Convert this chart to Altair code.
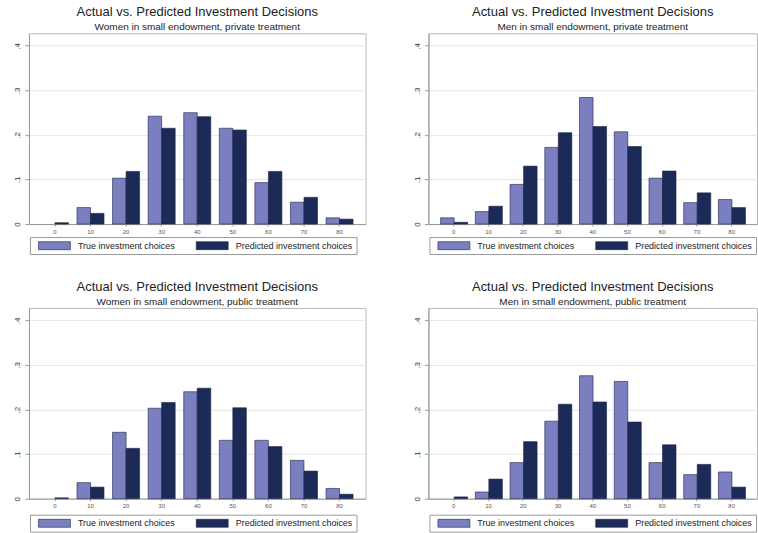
import altair as alt
import pandas as pd

# Investment amounts (categories on the x axis)
amounts = ["0", "10", "20", "30", "40", "50", "60", "70", "80"]
series = ["True investment choices", "Predicted investment choices"]
series_colors = ["#7b7fc0", "#1b2a57"]

# Shares of subjects choosing each amount
women_private_true = [0.000, 0.037, 0.103, 0.242, 0.250, 0.215, 0.093, 0.049, 0.014]
women_private_pred = [0.003, 0.024, 0.118, 0.215, 0.241, 0.211, 0.118, 0.060, 0.011]
men_private_true = [0.014, 0.028, 0.089, 0.172, 0.284, 0.207, 0.103, 0.048, 0.055]
men_private_pred = [0.004, 0.040, 0.130, 0.205, 0.219, 0.174, 0.119, 0.070, 0.037]
women_public_true = [0.000, 0.036, 0.149, 0.203, 0.240, 0.131, 0.131, 0.086, 0.023]
women_public_pred = [0.002, 0.026, 0.113, 0.216, 0.248, 0.204, 0.117, 0.062, 0.010]
men_public_true = [0.000, 0.015, 0.081, 0.174, 0.276, 0.263, 0.081, 0.054, 0.060]
men_public_pred = [0.004, 0.044, 0.128, 0.212, 0.217, 0.172, 0.121, 0.077, 0.026]

main_title = "Actual vs. Predicted Investment Decisions"
FONT = "Liberation Sans"
H = 191


def panel(subtitle, true_vals, pred_vals, width, legend_gap):
    df = pd.DataFrame({
        "amount": amounts * 2,
        "series": [series[0]] * len(amounts) + [series[1]] * len(amounts),
        "share": list(true_vals) + list(pred_vals),
    })
    return alt.Chart(df).mark_bar(stroke="#1c2146").encode(
        x=alt.X("amount:O", sort=amounts, title=None,
                scale=alt.Scale(paddingInner=0.24, paddingOuter=0.35),
                axis=alt.Axis(labelAngle=0, labelFontSize=6, labelColor="#555",
                              tickSize=2, tickColor="#999", labelPadding=2,
                              domainColor="#999", grid=False)),
        xOffset=alt.XOffset("series:N", sort=series),
        y=alt.Y("share:Q", title=None,
                scale=alt.Scale(domain=[0, 0.428], nice=False, zero=True),
                axis=alt.Axis(values=[0, 0.1, 0.2, 0.3, 0.4],
                              labelExpr="datum.value == 0 ? '0' : replace(format(datum.value, '.1f'), '0.', '.')",
                              labelAngle=270, labelAlign="center", labelBaseline="bottom",
                              labelFontSize=8, labelColor="#333", labelPadding=3,
                              tickSize=4, tickColor="#999", domainColor="#999",
                              grid=True, gridColor="#e6e6e6", gridWidth=1)),
        strokeWidth=alt.condition("datum.share > 0", alt.value(0.6), alt.value(0)),
        color=alt.Color("series:N", sort=series,
                        scale=alt.Scale(domain=series, range=series_colors),
                        legend=alt.Legend(orient="none", legendX=1, legendY=H + legend_gap,
                                          direction="horizontal", title=None,
                                          symbolType="M0,-0.8H6.4V0.8H0Z", symbolSize=100,
                                          symbolStrokeWidth=0.6, symbolStrokeColor="#1c2146",
                                          labelFontSize=9, labelFont=FONT, labelColor="#222",
                                          labelOffset=34, columnPadding=15, padding=3,
                                          strokeColor="#9a9a9a", fillColor="white")),
    ).properties(
        width=width, height=H,
        title=alt.TitleParams(text=main_title, subtitle=subtitle, fontSize=13,
                              subtitleFontSize=10, font=FONT, subtitleFont=FONT,
                              fontWeight="normal", color="#222", subtitleColor="#222",
                              anchor="middle", frame="group", offset=1, subtitlePadding=3),
    )


p1 = panel("Women in small endowment, private treatment", women_private_true, women_private_pred, 337, 13)
p2 = panel("Men in small endowment, private treatment", men_private_true, men_private_pred, 329, 13)
p3 = panel("Women in small endowment, public treatment", women_public_true, women_public_pred, 337, 16)
p4 = panel("Men in small endowment, public treatment", men_public_true, men_public_pred, 329, 16)

row1 = alt.hconcat(p1, p2, spacing=46).resolve_scale(color="independent")
row2 = alt.hconcat(p3, p4, spacing=46).resolve_scale(color="independent")

chart = alt.vconcat(row1, row2, spacing=25).resolve_scale(color="independent").properties(
    padding={"left": 13, "top": 5, "right": 0, "bottom": 0},
    background="white",
).configure_view(stroke="#b8b8b8").configure_axis(labelFont=FONT)

chart.save("out.html", embed_options={"renderer": "svg", "actions": False})
